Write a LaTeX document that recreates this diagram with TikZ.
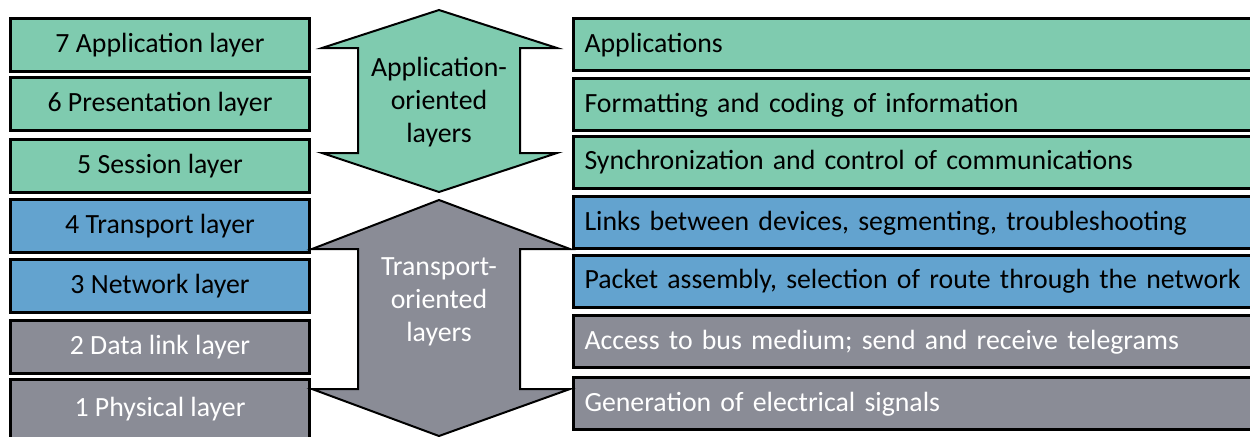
\documentclass[tikz,border=0pt]{standalone}
\usepackage{fontspec}
\setmainfont{Carlito}
\definecolor{appgreen}{RGB}{127,203,175}
\definecolor{trblue}{RGB}{99,163,207}
\definecolor{phgray}{RGB}{138,140,150}
\begin{document}
\begin{tikzpicture}[x=0.5pt,y=-0.5pt,
  txt/.style={font=\fontsize{13.9}{16.5}\selectfont,text height=0.8em,text depth=0.05em},
  lbox/.style={txt,draw=black,line width=1.5pt,minimum width=149.5pt,minimum height=26.5pt,inner sep=0pt},
  rbox/.style={txt,draw=black,line width=1.5pt,anchor=west,text width=340pt,inner xsep=5.5pt,inner ysep=0pt,minimum height=26pt,align=left},
  arr/.style={draw=black,line width=1pt,line join=miter},
  arrtext/.style={align=center,font=\fontsize{13.9}{16.5}\selectfont}
]
\useasboundingbox (0,0) rectangle (1250,436);
\begin{scope}
\clip (0,0) rectangle (1250,436);
% left column
\node[lbox,fill=appgreen] (l7) at (160,44.5) {7 Application layer};
\node[lbox,fill=appgreen] (l6) at (160,104) {6 Presentation layer};
\node[lbox,fill=appgreen] (l5) at (160,165.5) {5 Session layer};
\node[lbox,fill=trblue] (l4) at (160,226) {4 Transport layer};
\node[lbox,fill=trblue] (l3) at (160,285.5) {3 Network layer};
\node[lbox,fill=phgray,text=white] (l2) at (160,346.5) {2 Data link layer};
\node[lbox,fill=phgray,text=white,minimum height=30pt] (l1) at (160,409) {1 Physical layer};
% right column
\node[rbox,fill=appgreen] (r7) at (572,44.5) {Applications};
\node[rbox,fill=appgreen] (r6) at (572,104.5) {Formatting and coding of information};
\node[rbox,fill=appgreen] (r5) at (572,162) {Synchronization and control of communications};
\node[rbox,fill=trblue] (r4) at (572,222.5) {Links between devices, segmenting, troubleshooting};
\node[rbox,fill=trblue] (r3) at (572,281) {Packet assembly, selection of route through the network};
\node[rbox,fill=phgray,text=white] (r2) at (572,341.5) {Access to bus medium; send and receive telegrams};
\node[rbox,fill=phgray,text=white] (r1) at (572,403.5) {Generation of electrical signals};
% arrows
\draw[arr,fill=appgreen] (439,10) -- (557,48) -- (520,48) -- (520,153) -- (557,153) -- (439,192) -- (322,153) -- (358,153) -- (358,48) -- (322,48) -- cycle;
\node[arrtext] (aol) at (439,102) {Application-\\oriented\\layers};
\draw[arr,fill=phgray] (439,200) -- (570,249) -- (520,249) -- (520,389) -- (570,389) -- (439,436) -- (312,389) -- (358,389) -- (358,249) -- (312,249) -- cycle;
\node[arrtext,text=white] (tol) at (439,302) {Transport-\\oriented\\layers};
\end{scope}
\end{tikzpicture}
\end{document}
